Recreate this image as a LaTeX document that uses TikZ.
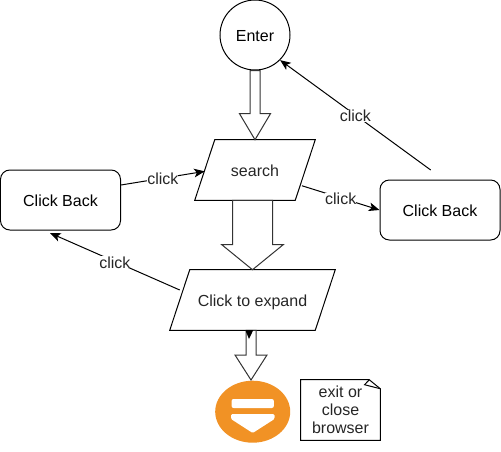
\documentclass[tikz,border=0pt]{standalone}
\usepackage{fontspec}
\setmainfont{Liberation Sans}
\usetikzlibrary{arrows.meta,calc,positioning,shapes.geometric}
\definecolor{stoporange}{HTML}{F19225}
\tikzset{>={Stealth[length=8pt,width=6.5pt,inset=2pt]},
         every node/.style={font=\fontsize{12}{13.5}\selectfont,text=black!85},
         lane/.style={line width=.75pt,black},
         raised/.style={text height=10pt,text depth=0pt},
         backbox/.style={draw,lane,raised,rectangle,rounded corners=7pt,
           minimum width=90pt,minimum height=45pt},
         slanted/.style={raised,minimum height=45pt,inner sep=0pt},
         clicklabel/.style={fill=white,inner sep=0pt,yshift=-.6pt},
         blockarrow/.style={lane,black!80,fill=white,line join=miter}}
\newcommand{\slantframe}[1]{%
  \draw[lane] (#1.south west) -- ([xshift=15pt]#1.north west) -- (#1.north east)
    -- ([xshift=-15pt]#1.south east) -- cycle;}
\newcommand{\blockarrow}[5]{%
  \draw[blockarrow] let \p1=(#1),\p2=(#2) in
    (\x2-#3,\y1) -- (\x2-#3,\y2+#5) -- (\x2-#4,\y2+#5) -- (\x2,\y2)
    -- (\x2+#4,\y2+#5) -- (\x2+#3,\y2+#5) -- (\x2+#3,\y1) -- cycle;}

\begin{document}
\begin{tikzpicture}[x=.75pt,y=-.75pt]
	  \useasboundingbox (0,0) rectangle (501,451);
	  % flow nodes
	  \node (enter) [draw,lane,raised,circle,minimum size=52.5pt,inner sep=0pt] at (255,35) {Enter};
	  \node (search) [slanted,minimum width=90pt] at (255,170) {search};
	  \slantframe{search}
	  \node (expand) [slanted,minimum width=123.75pt] at (252.5,300) {Click to expand};
	  \slantframe{expand}
	  \node (backL) [backbox] at (60.5,200) {Click Back};
	  \node (backR) [backbox] at (440,210) {Click Back};
	  % stop symbol and its note
	  \node (stop) [ellipse,fill=stoporange,minimum width=56.25pt,minimum height=46.5pt,inner sep=0pt] at (252.7,411.7) {};
	  \node (stopbar) [fill=white,rounded corners=1.5pt,minimum width=31.7pt,minimum height=6.75pt,inner sep=0pt] at (252.7,403.5) {};
	  \fill[white,rounded corners=1pt] (231,414) -- (274.5,414) -- (274.5,419) -- (252.7,433) -- (231,419) -- cycle;
	  \node (note) [minimum width=59.25pt,minimum height=45pt,inner sep=0pt,align=center] at (340.5,410) {exit or\\close\\browser};
	  \draw[lane] (note.south west) -- (note.north west) -- ([xshift=-8.25pt]note.north east)
	    -- ([yshift=-6.75pt]note.north east) -- (note.south east) -- cycle;
	  \draw[lane] ([xshift=-8.25pt]note.north east) -- ([xshift=-11.75pt,yshift=-3.75pt]note.north east)
	    -- ([yshift=-6.75pt]note.north east);
	  % block arrows
	  \blockarrow{enter.south}{search.north}{3.75pt}{11.6pt}{19.5pt}
	  \blockarrow{search.south}{expand.north}{15pt}{23pt}{18.75pt}
	  \coordinate (stoptip) at (251,380);
	  \blockarrow{expand.south}{stoptip}{3.75pt}{12pt}{18.75pt}
	  \fill[black] (245.3,330) -- (253.3,330) -- (249,339) -- cycle;
	  % click edges
	  \coordinate (backRout) at (430.7,170);
	  \coordinate (backLin) at (50,233);
	  \draw[lane,->] ([yshift=11.25pt]backL.east) -- node (clickA) [clicklabel] {click} ([xshift=7.5pt,yshift=-1pt]search.west);
	  \draw[lane,->] ([xshift=-10pt,yshift=-11.8pt]search.east) -- node (clickB) [clicklabel] {click} (backR.west);
	  \draw[lane,->] (backRout) -- node (clickC) [clicklabel] {click} (enter.-45);
	  \draw[lane,->] ([xshift=7.5pt,yshift=7.5pt]expand.west) -- node (clickD) [clicklabel] {click} (backLin);
\end{tikzpicture}
\end{document}
